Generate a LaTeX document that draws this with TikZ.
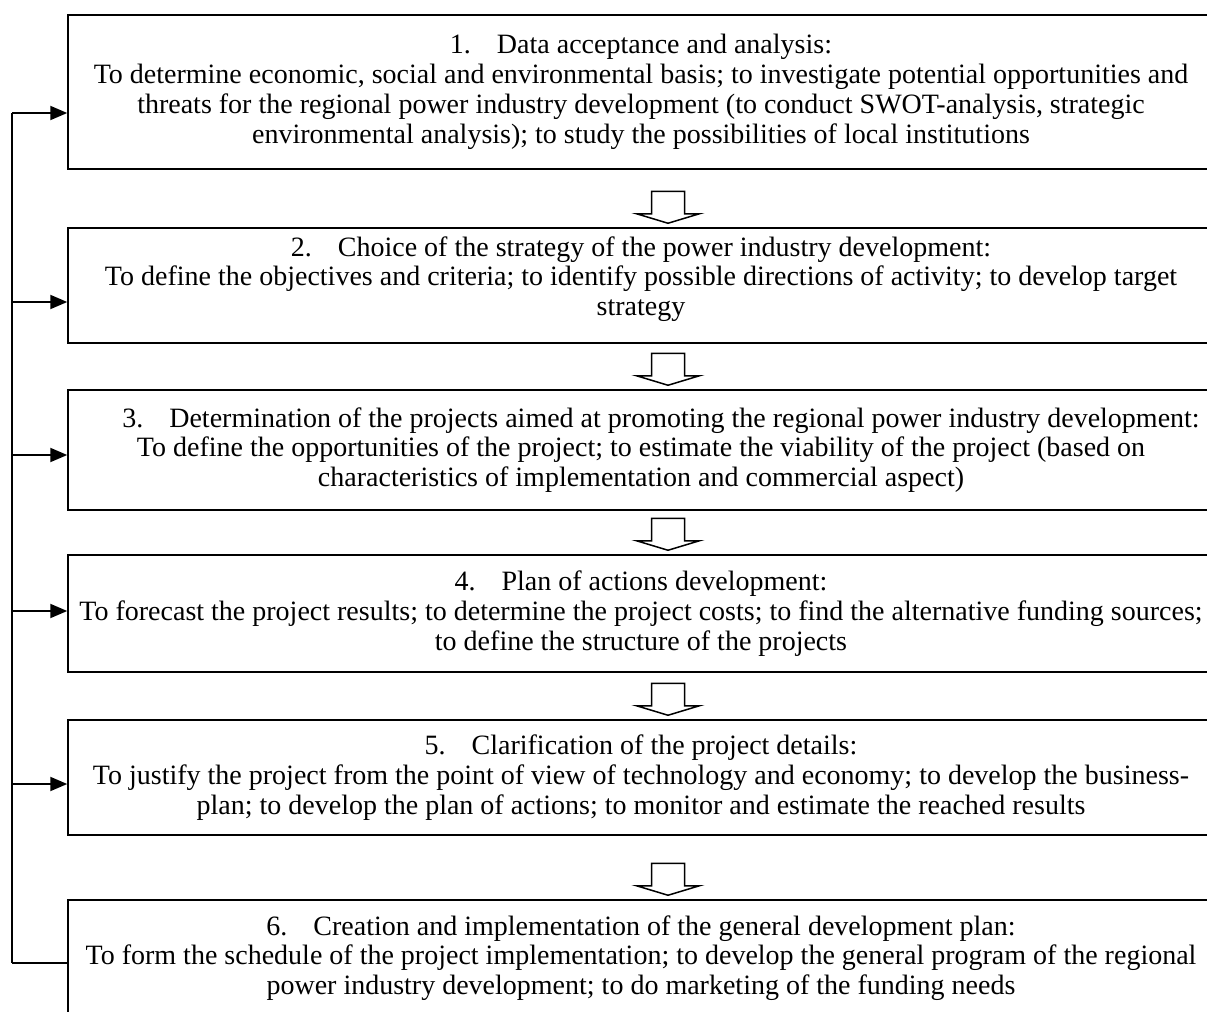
\documentclass[tikz,border=0pt]{standalone}
\usepackage{fontspec}
\setmainfont{Liberation Serif}
\usetikzlibrary{arrows.meta,calc}

\begin{document}
\begin{tikzpicture}[
		x=0.5pt, y=-0.5pt,
		every node/.style={font=\fontsize{14pt}{14.9pt}\selectfont},
		stage/.style={rectangle, draw, line width=0.75pt, minimum width=573pt, inner sep=0pt, align=center},
		hollow/.style={draw, line width=0.75pt, fill=white},
		feed/.style={line width=1pt},
		feedarrow/.style={feed, -{Triangle[length=8.5pt, width=7pt]}}
	]
  \clip (0,0) rectangle (1207,1012);
  % stages
  \node (b1) [stage, minimum height=77pt] at (641,92) {1.\hspace{13pt}Data acceptance and analysis:\\
    To determine economic, social and environmental basis; to investigate potential opportunities and\\
    threats for the regional power industry development (to conduct SWOT-analysis, strategic\\
    environmental analysis); to study the possibilities of local institutions};
  \node (b2) [stage, minimum height=57.5pt, text depth=9.5pt] at (641,285.5) {2.\hspace{13pt}Choice of the strategy of the power industry development:\\
    To define the objectives and criteria; to identify possible directions of activity; to develop target\\
    strategy};
  \node (b3) [stage, minimum height=60pt] at (641,450) {\hspace*{20pt}3.\hspace{13pt}Determination of the projects aimed at promoting the regional power industry development:\\
    To define the opportunities of the project; to estimate the viability of the project (based on\\
    characteristics of implementation and commercial aspect)};
  \node (b4) [stage, minimum height=58.5pt] at (641,613.5) {4.\hspace{13pt}Plan of actions development:\\
    To forecast the project results; to determine the project costs; to find the alternative funding sources;\\
    to define the structure of the projects};
  \node (b5) [stage, minimum height=57.5pt] at (641,777.5) {5.\hspace{13pt}Clarification of the project details:\\
    To justify the project from the point of view of technology and economy; to develop the business-\\
    plan; to develop the plan of actions; to monitor and estimate the reached results};
  \node (b6) [stage, minimum height=58pt] at (641,958) {6.\hspace{13pt}Creation and implementation of the general development plan:\\
    To form the schedule of the project implementation; to develop the general program of the regional\\
    power industry development; to do marketing of the funding needs};

  % hollow arrows between stages
  \coordinate (arrx) at (668,0);
  \foreach \n in {2,...,6}
    \draw[hollow] ($(b\n.north -| arrx)+(0,-4)$) -- ++(-31.5,-9.5) -- ++(15,0) -- ++(0,-22.5)
      -- ++(33,0) -- ++(0,22.5) -- ++(15,0) -- cycle;

  % feedback line
  \coordinate (bus1) at (12,113);
  \coordinate (bus2) at (12,302);
  \coordinate (bus3) at (12,455);
  \coordinate (bus4) at (12,611);
  \coordinate (bus5) at (12,784);
  \coordinate (bus6) at (12,963);
  \draw[feed] (bus1) -- (bus6);
  \foreach \n in {1,...,5}
    \draw[feedarrow] (bus\n) -- (bus\n -| b\n.west);
  \draw[feed] (bus6) -- (bus6 -| b6.west);
\end{tikzpicture}
\end{document}
